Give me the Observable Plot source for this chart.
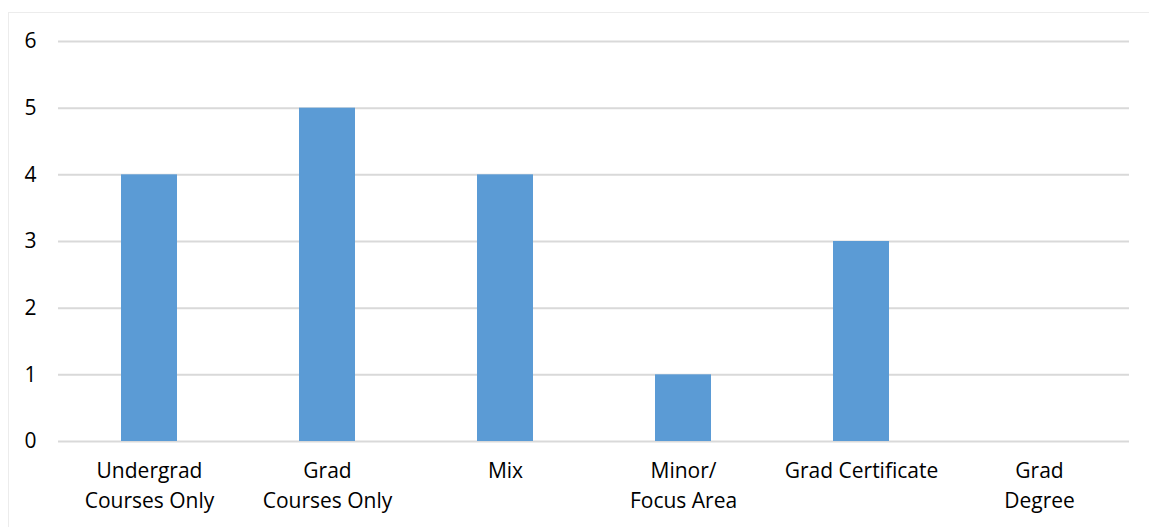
<!DOCTYPE html>
<html>
<head>
<meta charset="utf-8">
<script src="https://cdn.jsdelivr.net/npm/d3@7"></script>
<script src="https://cdn.jsdelivr.net/npm/@observablehq/plot@0.6"></script>
<style>
  html, body { margin: 0; padding: 0; background: #fff; }
  #wrap { position: relative; width: 1149px; height: 527px; overflow: hidden; }
  #edge { position: absolute; left: 8px; top: 12px; width: 1160px; height: 540px;
          border: 1px solid #ececec; box-sizing: border-box; pointer-events: none; }
</style>
</head>
<body>
<div id="wrap"><div id="edge"></div></div>
<script>
// Program types and how many offer each
const categories = [
  "Undergrad\nCourses Only",
  "Grad\nCourses Only",
  "Mix",
  "Minor/\nFocus Area",
  "Grad Certificate",
  "Grad\nDegree"
];
const counts = [4, 5, 4, 1, 3, 0];
const yTicks = [0, 1, 2, 3, 4, 5, 6];

const rows = categories.map((c, i) => ({category: c, count: counts[i]}));

const chart = Plot.plot({
  width: 1149,
  height: 527,
  marginLeft: 58,
  marginRight: 20,
  marginTop: 41,
  marginBottom: 86,
  style: {fontFamily: "'Open Sans', sans-serif", fontSize: "21px", color: "#000", background: "transparent"},
  x: {domain: categories, paddingInner: 0.686, paddingOuter: 0.343, label: null},
  y: {domain: [0, 6], label: null},
  marks: [
    Plot.gridY(yTicks, {stroke: "#d9d9d9", strokeOpacity: 1, strokeWidth: 2}),
    Plot.barY(rows, {x: "category", y: "count", fill: "#5b9bd5"}),
    Plot.axisY(yTicks, {tickSize: 0, tickPadding: 22, tickFormat: "d", label: null}),
    Plot.axisX({tickSize: 0, tickPadding: 15, lineHeight: 1.43, label: null})
  ]
});

document.getElementById("wrap").prepend(chart);
</script>
</body>
</html>
